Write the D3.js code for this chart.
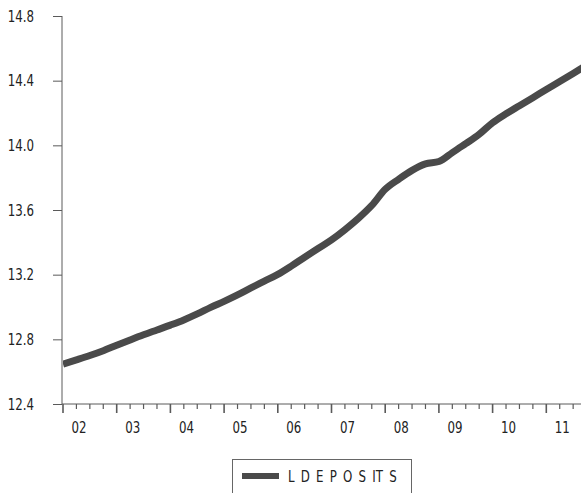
<!DOCTYPE html>
<html>
<head>
<meta charset="utf-8">
<script src="https://cdn.jsdelivr.net/npm/d3@7/dist/d3.min.js"></script>
<style>
  html, body { margin: 0; padding: 0; background: #fff; }
  svg { display: block; }
  text { font-family: "Liberation Sans Narrow", "Arial Narrow", "DejaVu Sans Condensed", sans-serif; fill: #222; }
</style>
</head>
<body>
<svg id="chart" width="581" height="493"></svg>
<script>
// Quarterly observations, 2002Q1 .. 2011Q4
const startYear = 2002;
const quarterValues = [
  12.647, 12.673, 12.700, 12.730,
  12.763, 12.796, 12.828, 12.858,
  12.888, 12.920, 12.957, 12.998,
  13.035, 13.075, 13.118, 13.160,
  13.202, 13.253, 13.308, 13.362,
  13.415, 13.478, 13.548, 13.628,
  13.728, 13.790, 13.845, 13.885,
  13.900, 13.955, 14.010, 14.068,
  14.140, 14.195, 14.245, 14.295,
  14.345, 14.395, 14.445, 14.495
];
const yearLabels = ["02","03","04","05","06","07","08","09","10","11"];
const yTicks = [12.4, 12.8, 13.2, 13.6, 14.0, 14.4, 14.8];
const seriesName = "L D E P O S IT S";

const data = quarterValues.map((v, i) => ({ t: startYear + i / 4, v }));

const svg = d3.select("#chart");
const W = 581, H = 493;
const axisColor = "#5a5a5a";
const lineColor = "#4a4a4a";
const SX = 0.82; // horizontal condensing of labels

const x = d3.scaleLinear().domain([2002, 2012]).range([63, 600]);
const y = d3.scaleLinear().domain([12.4, 14.8]).range([404, 16]);

svg.append("defs").append("clipPath").attr("id", "clip")
  .append("rect").attr("x", 63).attr("y", 0).attr("width", W - 63).attr("height", 404);

// Y axis
const yAxis = d3.axisLeft(y).tickValues(yTicks).tickFormat(d3.format(".1f"))
  .tickSize(9).tickPadding(19);
const gy = svg.append("g").attr("transform", "translate(62,0)").call(yAxis);
gy.select(".domain").attr("stroke", axisColor).attr("d", `M0,${y(14.8)}V${y(12.4)}`);
gy.selectAll(".tick line").attr("stroke", axisColor);
gy.selectAll(".tick text")
  .attr("font-size", 16).attr("fill", "#222")
  .attr("x", -28 / SX)
  .attr("transform", `scale(${SX},1)`)
  .style("font-family", '"Liberation Sans Narrow", "Arial Narrow", "DejaVu Sans Condensed", sans-serif');

// X axis: major ticks at years, minor at quarters
const gx = svg.append("g").attr("transform", "translate(0,404)");
gx.append("line").attr("x1", 62).attr("x2", W).attr("y1", 0).attr("y2", 0)
  .attr("stroke", axisColor);
const quarterTicks = d3.range(0, 40).map(i => startYear + i / 4);
gx.selectAll("line.tk").data(quarterTicks).join("line")
  .attr("class", "tk")
  .attr("x1", d => x(d)).attr("x2", d => x(d))
  .attr("y1", 0)
  .attr("y2", (d, i) => i % 4 === 0 ? 9 : 5)
  .attr("stroke", axisColor)
  .attr("stroke-width", (d, i) => i % 4 === 0 ? 1.6 : 1.2);
gx.selectAll("text").data(yearLabels).join("text")
  .attr("transform", (d, i) => `translate(${x(startYear + i) + 16},29) scale(${SX},1)`)
  .attr("text-anchor", "middle")
  .attr("font-size", 16)
  .text(d => d);

// Line
const line = d3.line().x(d => x(d.t)).y(d => y(d.v)).curve(d3.curveMonotoneX);
svg.append("path").datum(data)
  .attr("clip-path", "url(#clip)")
  .attr("d", line)
  .attr("fill", "none")
  .attr("stroke", lineColor)
  .attr("stroke-width", 7)
  .attr("stroke-linejoin", "round");

// Legend
const lg = svg.append("g");
lg.append("rect").attr("x", 232.5).attr("y", 459.5).attr("width", 179).attr("height", 40)
  .attr("fill", "#fff").attr("stroke", "#666").attr("stroke-width", 1);
lg.append("line").attr("x1", 242).attr("x2", 279).attr("y1", 476).attr("y2", 476)
  .attr("stroke", lineColor).attr("stroke-width", 6);
lg.append("text")
  .attr("transform", `translate(288,482) scale(${SX},1)`)
  .attr("font-size", 16).attr("word-spacing", 3)
  .style("white-space", "pre")
  .text(seriesName);
</script>
</body>
</html>
